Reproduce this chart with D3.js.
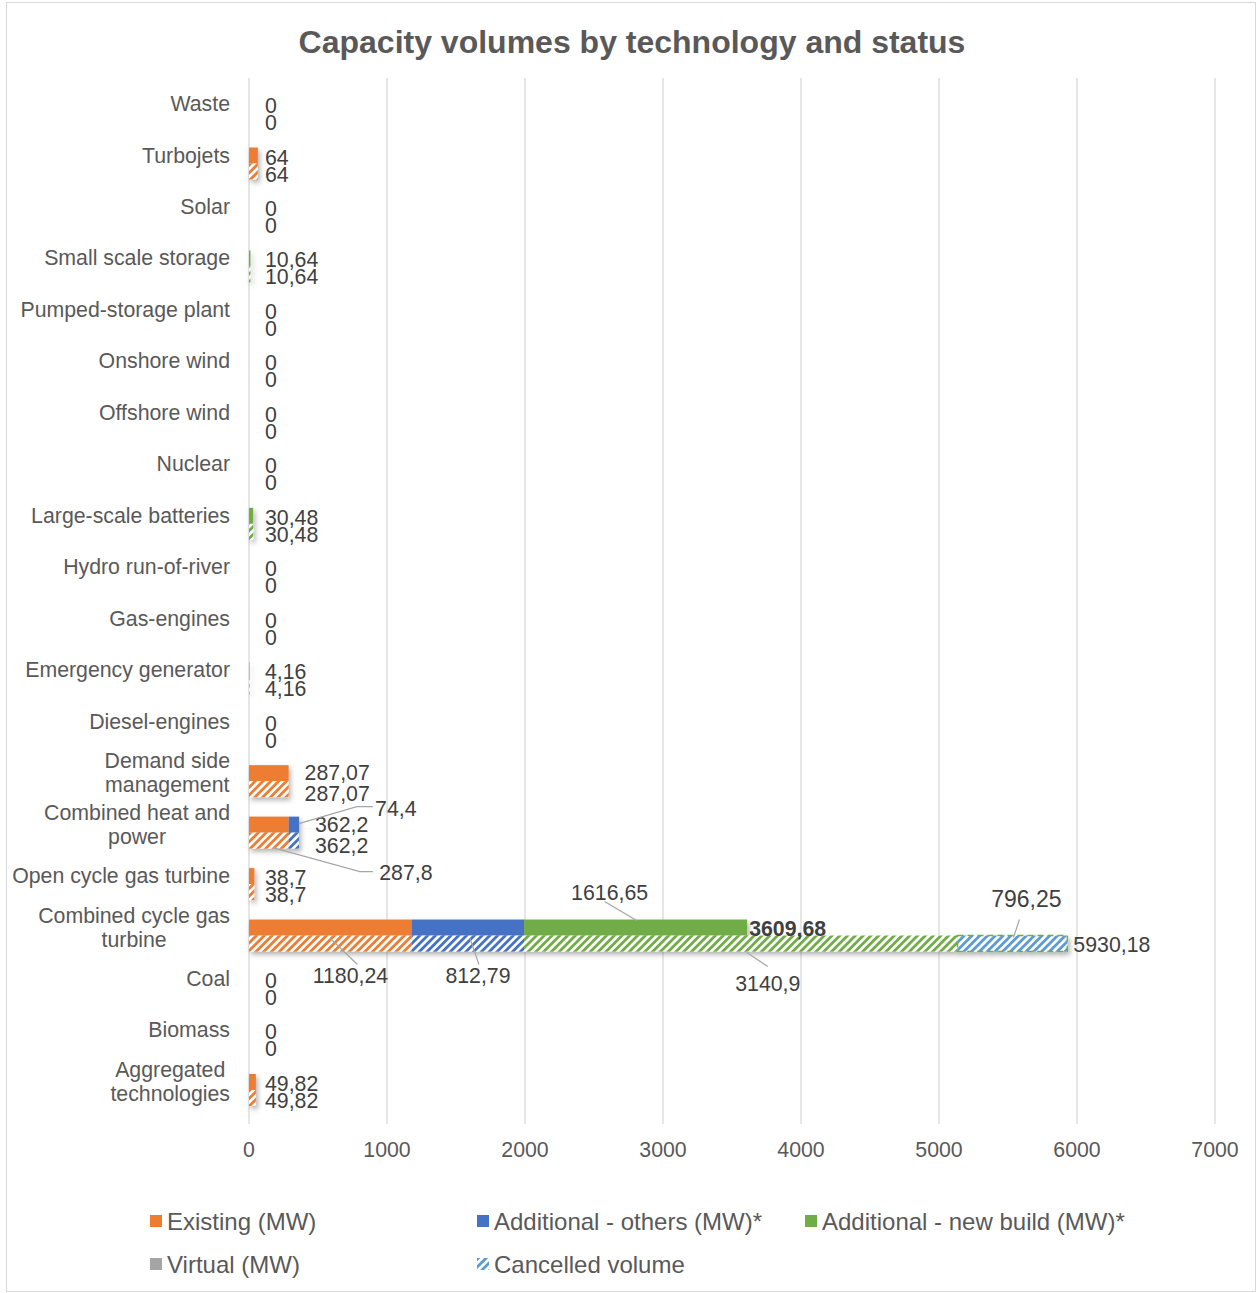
<!DOCTYPE html>
<html><head><meta charset="utf-8">
<script src="https://cdn.jsdelivr.net/npm/d3@7"></script>
<style>
body{margin:0;background:#fff}
text{font-family:"Liberation Sans",Arial,Helvetica,sans-serif}
</style>
</head><body>
<svg id="chart" width="1257" height="1293"></svg>
<script>
// ---------------- data ----------------
const categories = ["Waste","Turbojets","Solar","Small scale storage","Pumped-storage plant","Onshore wind","Offshore wind","Nuclear","Large-scale batteries","Hydro run-of-river","Gas-engines","Emergency generator","Diesel-engines","Demand side management","Combined heat and power","Open cycle gas turbine","Combined cycle gas turbine","Coal","Biomass","Aggregated technologies"];
const existing              = [0,64,0,0,0,0,0,0,0,0,0,0,0,287.07,287.8,38.7,1180.24,0,0,49.82];
const additionalOthers      = [0,0,0,0,0,0,0,0,0,0,0,0,0,0,74.4,0,812.79,0,0,0];
const newBuild              = [0,0,0,10.64,0,0,0,0,30.48,0,0,0,0,0,0,0,1616.65,0,0,0];
const newBuildAll           = [0,0,0,10.64,0,0,0,0,30.48,0,0,0,0,0,0,0,3140.9,0,0,0];
const virtualMW             = [0,0,0,0,0,0,0,0,0,0,0,4.16,0,0,0,0,0,0,0,0];
const cancelled             = [0,0,0,0,0,0,0,0,0,0,0,0,0,0,0,0,796.25,0,0,0];
const xTicks = [0,1000,2000,3000,4000,5000,6000,7000];
const legendItems = ["Existing (MW)","Additional - others (MW)*","Additional - new build (MW)*","Virtual (MW)","Cancelled volume"];
const title = "Capacity volumes by technology and status";

// ---------------- setup ----------------
const C = {orange:"#ED7D31", blue:"#4472C4", green:"#70AD47", grey:"#A5A5A5", lblue:"#5B9BD5"};
const FS = 21.3;
const svg = d3.select("#chart");
const fmt = v => String(v).replace(".", ",");

const defs = svg.append("defs");
function hatch(id, color){
  const p = defs.append("pattern").attr("id", id).attr("patternUnits","userSpaceOnUse")
    .attr("width", 5.5).attr("height", 5.5).attr("patternTransform","rotate(45)");
  p.append("rect").attr("width",5.5).attr("height",5.5).attr("fill","#fff");
  p.append("rect").attr("width",2.8).attr("height",5.5).attr("fill",color);
}
hatch("h-orange", C.orange); hatch("h-blue", C.blue); hatch("h-green", C.green);
hatch("h-grey", C.grey); hatch("h-lblue", C.lblue);
const f = defs.append("filter").attr("id","shadow").attr("x","-20%").attr("y","-50%").attr("width","140%").attr("height","220%");
f.append("feDropShadow").attr("dx",2).attr("dy",3).attr("stdDeviation",2.5).attr("flood-color","#000").attr("flood-opacity",0.3);

// border
svg.append("rect").attr("x",6.5).attr("y",2.5).attr("width",1249).attr("height",1289)
  .attr("fill","#fff").attr("stroke","#D9D9D9").attr("stroke-width",1);

// title
svg.append("text").attr("x",632).attr("y",42).attr("text-anchor","middle").attr("dominant-baseline","central")
  .attr("font-size",32).attr("font-weight","bold").attr("fill","#595959").text(title);

const x = d3.scaleLinear().domain([0,7000]).range([249,1215]);
const y = d3.scaleBand().domain(categories).range([78.3,1107.7]).padding(0);
const bw = y.bandwidth();
const inner = d3.scaleBand().domain(["none","A","B"]).range([-bw*0.466, bw*0.466]);
const barH = inner.bandwidth();
const cy = c => y(c) + bw/2;

// gridlines
svg.append("g").selectAll("line").data(xTicks).join("line")
  .attr("x1",d=>x(d)).attr("x2",d=>x(d)).attr("y1",78).attr("y2",1124)
  .attr("stroke","#D9D9D9").attr("stroke-width",1.3);

// x tick labels
svg.append("g").selectAll("text").data(xTicks).join("text")
  .attr("x",d=>x(d)).attr("y",1150).attr("text-anchor","middle").attr("dominant-baseline","central")
  .attr("font-size",FS).attr("fill","#595959").text(d=>d);

// category labels (wrapped by width, block right-aligned, lines centred)
const catG = svg.append("g");
function measure(s){
  const t = catG.append("text").attr("font-size",FS).text(s);
  const w = t.node().getComputedTextLength(); t.remove(); return w;
}
function wrap(s, maxW){
  const words = s.split(" "); const lines=[]; let cur="";
  words.forEach(w=>{ const t = cur? cur+" "+w : w; if (measure(t)>maxW && cur){lines.push(cur); cur=w;} else cur=t; });
  lines.push(cur); return lines;
}
categories.forEach(c=>{
  const lines = wrap(c, 222);
  const lh = 24;
  const t = catG.append("text").attr("font-size",FS).attr("fill","#595959");
  const spans = lines.map((l,i)=> t.append("tspan").attr("y", cy(c) + (i-(lines.length-1)/2)*lh).attr("dominant-baseline","central").text(l));
  const widths = spans.map(s=>s.node().getComputedTextLength());
  const wmax = d3.max(widths);
  spans.forEach(s=> s.attr("x", 230 - wmax/2).attr("text-anchor","middle"));
});

// bars
const barA = [ {vals:existing, fill:C.orange}, {vals:additionalOthers, fill:C.blue}, {vals:newBuild, fill:C.green}, {vals:virtualMW, fill:C.grey} ];
const barB = [ {vals:existing, fill:"url(#h-orange)"}, {vals:additionalOthers, fill:"url(#h-blue)"}, {vals:newBuildAll, fill:"url(#h-green)"}, {vals:virtualMW, fill:"url(#h-grey)"}, {vals:cancelled, fill:"url(#h-lblue)", stroke:C.green, dash:"6,4"} ];

function segs(series){
  return categories.map((c,i)=>{
    let acc=0;
    return series.map((s,k)=>{ const v=s.vals[i]; const r={c,i,k,v,x0:acc,x1:acc+v,fill:s.fill,stroke:s.stroke,dash:s.dash}; acc+=v; return r; });
  });
}
const segA = segs(barA), segB = segs(barB);
const barsG = svg.append("g").attr("filter","url(#shadow)");
function drawBars(all, key){
  barsG.append("g").selectAll("rect").data(all.flat().filter(d=>d.v>0)).join("rect")
    .attr("x",d=>x(d.x0)).attr("width",d=>x(d.x1)-x(d.x0))
    .attr("y",d=>cy(d.c)+inner(key)).attr("height",barH)
    .attr("fill",d=>d.fill)
    .attr("stroke",d=>d.stroke||"none").attr("stroke-dasharray",d=>d.dash||null).attr("stroke-width",1.5);
}
drawBars(segA,"A"); drawBars(segB,"B");

// total labels
const totA = segA.map(r=>d3.sum(r,d=>d.v)), totB = segB.map(r=>d3.sum(r,d=>d.v));
const maxA = d3.max(totA);
const lblG = svg.append("g").attr("font-size",FS).attr("fill","#404040");
categories.forEach((c,i)=>{
  [["A",totA[i]],["B",totB[i]]].forEach(([key,t])=>{
    const big = t > 3000, small = t < 100;
    const lx = big ? x(t) + (key==="A"?2:6) : (small ? x(0)+16 : x(t)+16);
    const ly = small ? cy(c) + (key==="A"?2:19) : (big ? cy(c)+inner(key)+barH/2+1 : cy(c) + (key==="A"?0:21));
    lblG.append("text").attr("x",lx).attr("y",ly).attr("dominant-baseline","central")
      .attr("font-weight", (key==="A" && t===maxA) ? "bold" : null)
      .text(fmt(+t.toFixed(2)));
  });
});

// segment labels with leader lines
const ann = [
  {cat:16, bar:"B", k:0, dx:20,  dy:32,  pts:[[7,-11]], end:[0,-5]},
  {cat:16, bar:"B", k:1, dx:10,  dy:32,  pts:[[1,-11]], end:[2,-5]},
  {cat:16, bar:"B", k:2, dx:27,  dy:40,  pts:[[0,-17]], end:[6,9]},
  {cat:16, bar:"A", k:2, dx:-26, dy:-35, pts:[[-5,9]],  end:[1,-7]},
  {cat:16, bar:"B", k:4, dx:14,  dy:-45, pts:[[-7,21]], end:[1,-6]},
  {cat:14, bar:"A", k:1, dx:102, dy:-16, pts:[[-23,-2],[-39,-2]], end:[5,-1]},
  {cat:14, bar:"B", k:0, dx:137, dy:32,  pts:[[-33,-1],[-46,-1]], end:[4,7]}
];
const annG = svg.append("g");
ann.forEach(a=>{
  const s = (a.bar==="A"?segA:segB)[a.cat][a.k];
  const mx = x((s.x0+s.x1)/2), my = cy(s.c)+inner(a.bar)+barH/2;
  const lx = mx+a.dx, ly = my+a.dy;
  const pts = a.pts.map(p=>[lx+p[0], ly+p[1]]).concat([[mx+a.end[0], my+a.end[1]]]);
  annG.append("path").attr("d", d3.line()(pts)).attr("fill","none").attr("stroke","#A6A6A6").attr("stroke-width",1.2);
  annG.append("text").attr("x",lx).attr("y",ly).attr("text-anchor","middle").attr("dominant-baseline","central")
    .attr("font-size",(a.k===4)?23:FS).attr("fill","#404040").text(fmt(s.v));
});

// legend
const legFills = [C.orange, C.blue, C.green, C.grey, "url(#h-lblue)"];
const legPos = [[150,1221],[477,1221],[805,1221],[150,1264],[477,1264]];
const legG = svg.append("g");
legendItems.forEach((name,i)=>{
  const [lx,ly] = legPos[i];
  legG.append("rect").attr("x",lx).attr("y",ly-6).attr("width",12).attr("height",12).attr("fill",legFills[i]);
  legG.append("text").attr("x",lx+17).attr("y",ly).attr("dominant-baseline","central")
    .attr("font-size",24).attr("fill","#595959").text(name);
});
</script>
</body></html>
